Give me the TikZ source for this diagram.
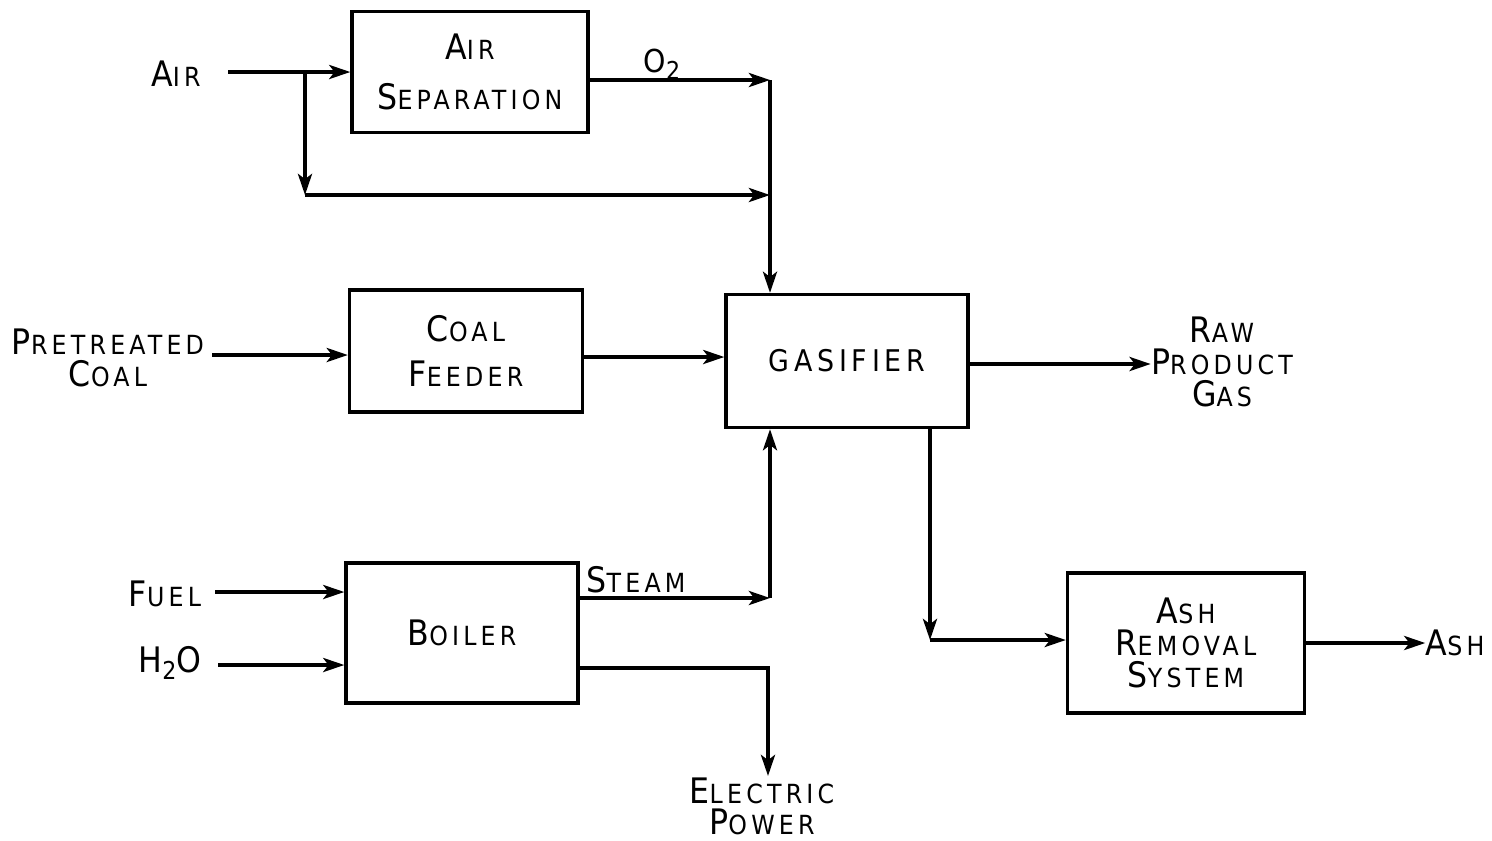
\documentclass[tikz,border=0pt]{standalone}
\usepackage{fontspec}
\setmainfont{DejaVu Sans Condensed}[LetterSpace=16]
\usetikzlibrary{arrows.meta}

% big initial, small capitals after it
\newcommand\initcap[2]{{\fontsize{20pt}{18pt}\selectfont #1}{\fontsize{15pt}{18pt}\selectfont #2}}
\newcommand\subtwo{\raisebox{-0.4ex}{\fontsize{14pt}{18pt}\selectfont 2}}

\tikzset{
  unit/.style={draw, line width=1.9pt, inner sep=0pt, align=center},
  stream/.style={inner sep=0pt, align=center},
  flow/.style={line width=2.1pt, -{Stealth[length=12pt,width=8pt,inset=3pt]}},
}

\begin{document}
\begin{tikzpicture}[x=0.02cm, y=-0.02cm, every node/.style={font=\fontsize{15pt}{18pt}\selectfont}]
\useasboundingbox (0,0) rectangle (1492,840);

% units
\node[unit, minimum width=236*0.02cm, minimum height=121*0.02cm] (airsep) at (470,72) {\initcap{A}{IR}\\[10pt]\initcap{S}{EPARATION}};
\node[unit, minimum width=233*0.02cm, minimum height=122*0.02cm] (coalfeed) at (466,351) {\initcap{C}{OAL}\\[8pt]\initcap{F}{EEDER}};
\node[unit, minimum width=242*0.02cm, minimum height=133*0.02cm] (gasifier) at (847,361) {{\fontsize{17pt}{18pt}\selectfont GASIFIER}};
\node[unit, minimum width=232*0.02cm, minimum height=140*0.02cm] (boiler) at (462,633) {\initcap{B}{OILER}};
\node[unit, minimum width=237*0.02cm, minimum height=140*0.02cm] (ashrem) at (1186,643) {\initcap{A}{SH}\\\initcap{R}{EMOVAL}\\\initcap{S}{YSTEM}};

% streams in and out
\node[stream] (air) at (176,74) {\initcap{A}{IR}};
\node[stream] (pretreated) at (108,358) {\initcap{P}{RETREATED}\\\initcap{C}{OAL}};
\node[stream] (fuel) at (165,594) {\initcap{F}{UEL}};
\node[stream] (water) at (170,663) {{\fontsize{20pt}{18pt}\selectfont H\subtwo O}};
\node[stream] (rawgas) at (1222,362) {\initcap{R}{AW}\\\initcap{P}{RODUCT}\\\initcap{G}{AS}};
\node[stream] (ash) at (1455,643) {\initcap{A}{SH}};
\node[stream] (elec) at (762,806) {\initcap{E}{LECTRIC}\\[-0.5pt]\initcap{P}{OWER}};
\node[stream] (o2) at (662,64) {{\fontsize{18pt}{18pt}\selectfont O\subtwo}};
\node[stream] (steam) at (636,580) {\initcap{S}{TEAM}};

% bends
\coordinate (split) at (305,72);
\coordinate (bypass) at (305,195);
\coordinate (o2c) at (770,80);
\coordinate (mixc) at (770,195);
\coordinate (stc) at (770,598);
\coordinate (elc) at (768,668);
\coordinate (elend) at (768,776);
\coordinate (ashc) at (930,640);

\draw[flow] (228,72) -- (airsep.west |- split);
\draw[flow] (split) -- (bypass);
\draw[flow] (bypass) -- (mixc);
\draw[flow] (airsep.east |- o2c) -- (o2c);
\draw[flow] (o2c) -- (o2c |- gasifier.north);
\draw[flow] (212,355) -- (coalfeed.west |- 0,355);
\draw[flow] (coalfeed.east |- 0,357) -- (gasifier.west |- 0,357);
\draw[flow] (gasifier.east |- 0,364) -- (rawgas.west |- 0,364);
\draw[flow] (ashc |- gasifier.south) -- (ashc);
\draw[flow] (ashc) -- (ashc -| ashrem.west);
\draw[flow] (ashrem.east) -- (ash.west);
\draw[flow] (215,592) -- (boiler.west |- 0,592);
\draw[flow] (218,665) -- (boiler.west |- 0,665);
\draw[flow] (boiler.east |- stc) -- (stc);
\draw[flow] (stc) -- (stc |- gasifier.south);
\draw[flow] (boiler.east |- elc) -- (elc) -- (elend);
\end{tikzpicture}
\end{document}
